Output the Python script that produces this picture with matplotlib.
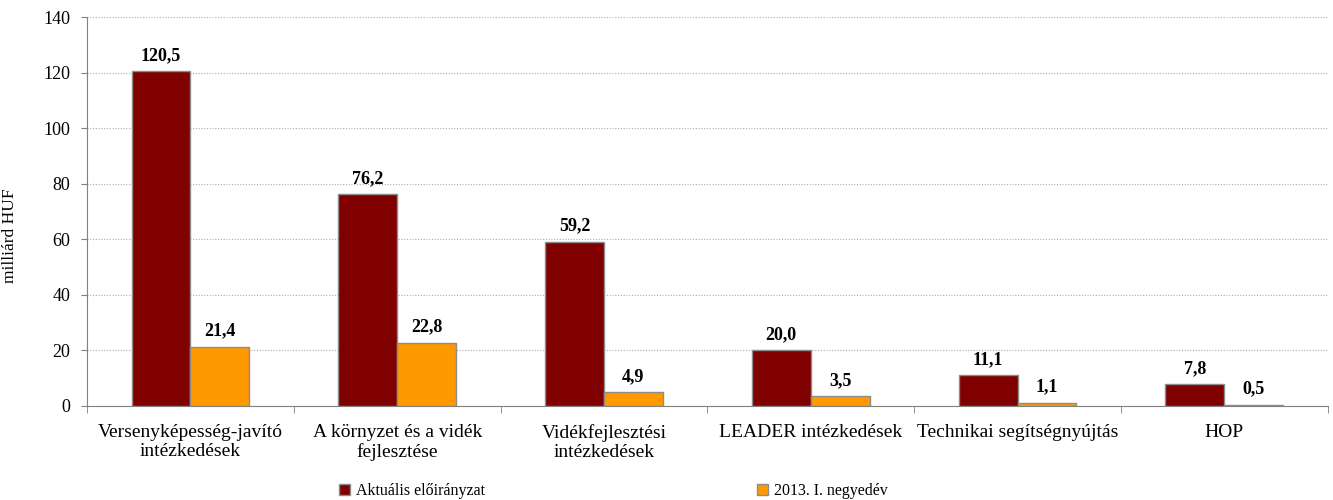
import numpy as np
import matplotlib.pyplot as plt

# data
categories = ["Versenyképesség-javító\nintézkedések", "A környzet és a vidék\nfejlesztése",
              "Vidékfejlesztési\nintézkedések", "LEADER intézkedések",
              "Technikai segítségnyújtás", "HOP"]
aktualis = [120.5, 76.2, 59.2, 20.0, 11.1, 7.8]
negyedev = [21.4, 22.8, 4.9, 3.5, 1.1, 0.5]
series_names = ["Aktuális előirányzat", "2013. I. negyedév"]

plt.rcParams['font.family'] = ['Liberation Serif', 'DejaVu Serif']

fig = plt.figure(figsize=(13.33, 5), dpi=100)
ax = fig.add_axes([0.0653, 0.188, 0.9307, 0.778])

x = np.arange(len(categories))
w = 0.285
b1 = ax.bar(x - w / 2, aktualis, w, color="#800000", edgecolor="#8c8c8c", linewidth=1,
            label=series_names[0], zorder=3)
b2 = ax.bar(x + w / 2, negyedev, w, color="#ff9900", edgecolor="#8c8c8c", linewidth=1,
            label=series_names[1], zorder=3)

for bars, vals in ((b1, aktualis), (b2, negyedev)):
    for rect, v in zip(bars, vals):
        ax.text(rect.get_x() + rect.get_width() / 2, v + 2.6, f"{v:.1f}".replace(".", ","),
                ha="center", va="bottom", fontsize=13, fontweight="bold")

ax.set_xlim(-0.5, len(categories) - 0.5)
ax.set_ylim(0, 140)
ax.set_yticks(np.arange(0, 141, 20))
ax.tick_params(axis="y", labelsize=13, length=4, color="#808080", pad=8)
ax.set_xticks(x)
ax.set_xticklabels(categories, fontsize=14, linespacing=1.15)
ax.tick_params(axis="x", length=0, pad=13)
# boundary tick marks between categories
ax.set_xticks(np.arange(-0.5, len(categories) + 0.5, 1), minor=True)
ax.tick_params(axis="x", which="minor", length=5, color="#808080")

ax.grid(axis="y", linestyle=(0, (1, 1.5)), color="#aaaaaa", linewidth=0.8, zorder=0)
for s in ("top", "right"):
    ax.spines[s].set_visible(False)
for s in ("left", "bottom"):
    ax.spines[s].set_color("#808080")

ax.set_ylabel("milliárd HUF", fontsize=12.5)
ax.yaxis.set_label_coords(-0.0556, 0.437)

fig.legend(handles=[b1, b2], labels=series_names, loc="center left", ncol=2,
           bbox_to_anchor=(0.254, 0.018), frameon=False, fontsize=11.5,
           borderpad=0, borderaxespad=0,
           handlelength=0.7, handleheight=0.7, handletextpad=0.4, columnspacing=17)

plt.savefig("out.png")
